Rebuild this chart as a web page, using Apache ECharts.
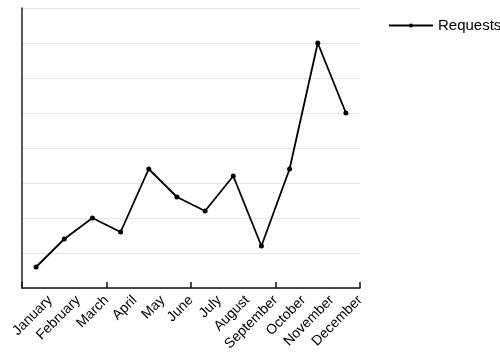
<!DOCTYPE html>
<html><head><meta charset="utf-8">
<script src="https://cdn.jsdelivr.net/npm/echarts@6/dist/echarts.min.js"></script>
<style>html,body{margin:0;padding:0;background:#fff}#c{width:500px;height:354px}</style>
</head><body><div id="c"></div>
<script>
const categories = ['January','February','March','April','May','June','July','August','September','October','November','December'];
const requests = [6, 14, 20, 16, 34, 26, 22, 32, 12, 34, 70, 50];
const yMin = 0, yMax = 80, yStep = 10;
const font = '"Liberation Sans", Arial, Helvetica, sans-serif';
const chart = echarts.init(document.getElementById('c'), null, {renderer: 'canvas'});
chart.setOption({
  animation: false,
  backgroundColor: '#fff',
  grid: {left: 22, right: 140, top: 8, bottom: 66, containLabel: false, outerBoundsMode: 'none'},
  legend: {
    data: ['Requests'], left: 388, top: 18, padding: 0, itemWidth: 44, itemHeight: 5, itemGap: 4,
    textStyle: {fontFamily: font, fontSize: 15, color: '#000'}
  },
  xAxis: [{
    type: 'category', data: categories, boundaryGap: true, position: 'bottom',
    axisLine: {show: true, lineStyle: {color: '#111', width: 1.5}},
    axisTick: {show: true, inside: true, length: 6, lineStyle: {color: '#111', width: 1.5}},
    axisLabel: {show: false}, splitLine: {show: false}
  }, {
    type: 'category', data: [''].concat(categories), boundaryGap: false, position: 'bottom',
    axisLine: {show: false}, axisTick: {show: false}, splitLine: {show: false},
    axisLabel: {show: true, interval: 0, rotate: 45, margin: 10, color: '#000', fontFamily: font, fontSize: 14}
  }],
  yAxis: {
    type: 'value', min: yMin, max: yMax, interval: yStep,
    axisLine: {show: true, lineStyle: {color: '#222', width: 1.5}},
    axisTick: {show: false}, axisLabel: {show: false},
    splitLine: {show: true, lineStyle: {color: '#e6e6e6', width: 1}}
  },
  series: [{
    name: 'Requests', type: 'line', data: requests, xAxisIndex: 0,
    symbol: 'circle', symbolSize: 5, showAllSymbol: true,
    lineStyle: {color: '#000', width: 1.8}, itemStyle: {color: '#000'}
  }]
});
</script></body></html>
